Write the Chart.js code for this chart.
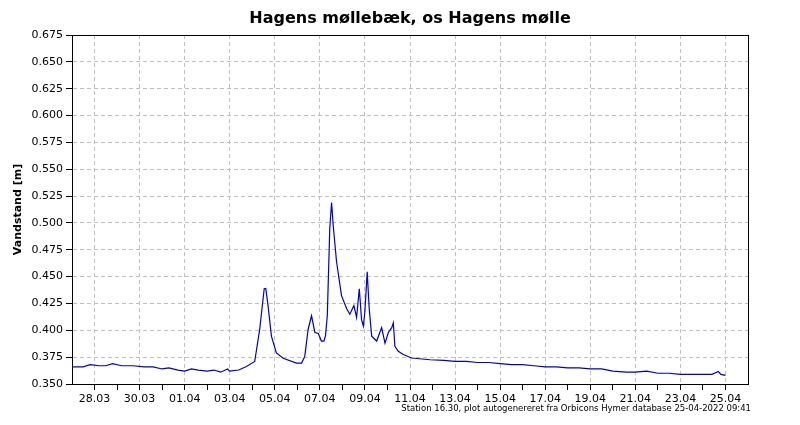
<!DOCTYPE html>
<html><head><meta charset="utf-8">
<script src="https://cdn.jsdelivr.net/npm/chart.js@4"></script>
<style>html,body{margin:0;padding:0;background:#fff}#w{width:800px;height:425px}</style>
</head><body><div id="w"><canvas id="c"></canvas></div>
<script>
// x = days since 27.03 00:00
const days = [0,0.5,0.8,1.2,1.5,1.8,2.2,2.7,3.2,3.6,4.0,4.3,4.7,5.0,5.3,5.6,6.0,6.3,6.6,6.9,7.0,7.4,7.74,8.11,8.33,8.53,8.6,8.7,8.85,9.07,9.37,9.96,10.19,10.33,10.48,10.63,10.78,10.93,11.07,11.18,11.25,11.33,11.44,11.52,11.59,11.74,11.96,12.19,12.33,12.51,12.63,12.75,12.85,12.93,13.0,13.1,13.19,13.3,13.52,13.74,13.89,14.04,14.19,14.26,14.33,14.48,14.7,15.07,15.89,16.5,17,17.5,18,18.5,19,19.5,20,20.5,21,21.5,22,22.5,23,23.5,24,24.6,25,25.5,26,26.5,27,27.5,28,28.4,28.68,28.8,29.0];
const levels = [0.366,0.366,0.368,0.367,0.367,0.369,0.367,0.367,0.366,0.366,0.364,0.365,0.363,0.362,0.364,0.363,0.362,0.363,0.361,0.364,0.362,0.363,0.3663,0.371,0.401,0.4387,0.439,0.423,0.3946,0.379,0.374,0.3695,0.3695,0.3757,0.401,0.4135,0.398,0.397,0.390,0.390,0.395,0.4135,0.495,0.519,0.498,0.4638,0.4323,0.420,0.415,0.423,0.412,0.4387,0.410,0.404,0.418,0.4544,0.420,0.3946,0.390,0.4025,0.388,0.398,0.4025,0.407,0.385,0.3805,0.3774,0.3742,0.3726,0.372,0.371,0.371,0.370,0.370,0.369,0.368,0.368,0.367,0.366,0.366,0.365,0.365,0.364,0.364,0.362,0.361,0.361,0.362,0.360,0.360,0.359,0.359,0.359,0.359,0.3616,0.359,0.358];
const tickLabels = ['28.03','30.03','01.04','03.04','05.04','07.04','09.04','11.04','13.04','15.04','17.04','19.04','21.04','23.04','25.04'];
const titleText = 'Hagens møllebæk, os Hagens mølle';
const yTitle = 'Vandstand [m]';
const footer = 'Station 16.30, plot autogenereret fra Orbicons Hymer database 25-04-2022 09:41';

const deco = {
  id:'deco',
  afterDraw(ch){
    const c=ch.ctx, a=ch.chartArea;
    c.save();
    c.strokeStyle='#000'; c.lineWidth=1;
    c.strokeRect(Math.round(a.left)+0.5, Math.round(a.top)+0.5, Math.round(a.right-a.left), Math.round(a.bottom-a.top));
    c.fillStyle='#000';
    c.font='bold 16px "DejaVu Sans"'; c.textAlign='center'; c.textBaseline='middle';
    c.fillText(titleText,(a.left+a.right)/2,19);
    c.font='8.5px "DejaVu Sans"'; c.textAlign='right';
    c.fillText(footer,a.right+3,409);
    c.translate(18,(a.top+a.bottom)/2); c.rotate(-Math.PI/2);
    c.font='bold 11px "DejaVu Sans"'; c.textAlign='center';
    c.fillText(yTitle,0,0);
    c.restore();
  }
};
new Chart(document.getElementById('c'),{
  type:'line',
  data:{datasets:[{data:days.map((d,i)=>({x:d,y:levels[i]})),borderColor:'#0000c8',borderWidth:1.2,pointRadius:0,tension:0}]},
  options:{
    responsive:true,maintainAspectRatio:false,animation:false,
    layout:{padding:{top:35,right:52,bottom:1,left:0}},
    plugins:{legend:{display:false},tooltip:{enabled:false}},
    scales:{
      x:{type:'linear',min:0,max:30,
        afterBuildTicks:s=>{s.ticks=[];for(let d=1;d<=29;d++)s.ticks.push({value:d});},
        afterFit:s=>{s.height=40;},
        ticks:{autoSkip:false,maxRotation:0,color:'#000',font:{family:'DejaVu Sans',size:11},padding:3,
          callback:v=>(v%2===1)?tickLabels[(v-1)/2]:''},
        grid:{color:ctx=>(ctx.tick&&ctx.tick.value%2===1)?'#c0c0c0':'rgba(0,0,0,0)',tickColor:'#000',tickLength:6,tickBorderDash:[]},
        border:{color:'#000',dash:[4,3]}},
      y:{min:0.35,max:0.675,
        afterBuildTicks:s=>{s.ticks=[];for(let i=0;i<=13;i++)s.ticks.push({value:+(0.35+i*0.025).toFixed(3)});},
        afterFit:s=>{s.width=72;},
        ticks:{color:'#000',font:{family:'DejaVu Sans',size:11},callback:v=>v.toFixed(3),padding:3},
        grid:{color:'#c0c0c0',tickColor:'#000',tickLength:6,tickBorderDash:[]},
        border:{color:'#000',dash:[4,3]}}
    }
  },
  plugins:[deco]
});
</script></body></html>
